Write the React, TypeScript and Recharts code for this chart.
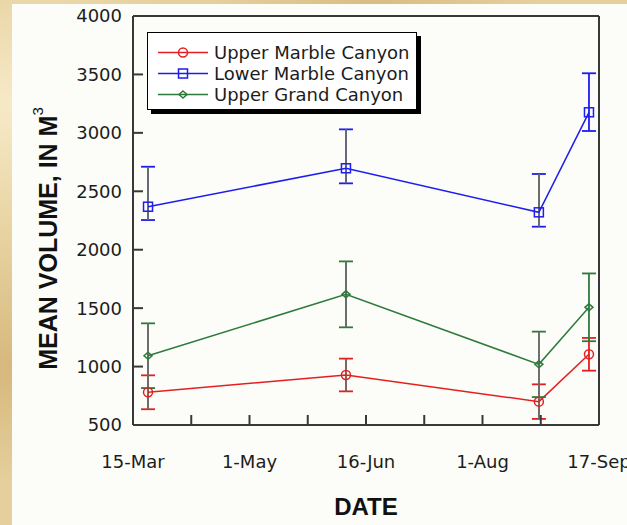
import React from 'react';
import { LineChart, Line, XAxis, YAxis, ErrorBar, Legend } from 'recharts';

// sampling dates as day of year (21-Mar, 8-Jun, 24-Aug, 13-Sep)
const sampleDays = [80, 159, 236, 256];

const upperMarble = [780, 928, 700, 1105];
const upperMarbleErr = [145, 140, 148, 140];

const lowerMarble = [2368, 2697, 2320, 3176];
const lowerMarbleErrLow = [114, 129, 123, 160];
const lowerMarbleErrHigh = [342, 333, 328, 334];

const upperGrand = [1093, 1618, 1019, 1507];
const upperGrandErr = [277, 282, 280, 290];

const xTickDays = [74, 97.25, 120.5, 143.75, 167, 190.25, 213.5, 236.75, 260];
const xTickLabels = ['15-Mar', '', '1-May', '', '16-Jun', '', '1-Aug', '', '17-Sep'];
const yTicks = [500, 1000, 1500, 2000, 2500, 3000, 3500, 4000];

const series = [
  { key: 'upperMarble', name: 'Upper Marble Canyon', color: '#e3201f', shape: 'circle' },
  { key: 'lowerMarble', name: 'Lower Marble Canyon', color: '#1d1def', shape: 'square' },
  { key: 'upperGrand', name: 'Upper Grand Canyon', color: '#2d7a3b', shape: 'diamond' },
];

const last = sampleDays.length - 1;

// "Err" draws the coloured caps (and the last stem), "Stem" lays the grey stem on top
const data = sampleDays.map((day, i) => {
  const lowerErr = [lowerMarbleErrLow[i], lowerMarbleErrHigh[i]];
  return {
    day,
    upperMarble: upperMarble[i],
    upperMarbleErr: upperMarbleErr[i],
    upperMarbleStem: i < last ? upperMarbleErr[i] : null,
    lowerMarble: lowerMarble[i],
    lowerMarbleErr: lowerErr,
    lowerMarbleStem: i < last ? lowerErr : null,
    upperGrand: upperGrand[i],
    upperGrandErr: upperGrandErr[i],
    upperGrandStem: i < last ? upperGrandErr[i] : null,
  };
});

const AXIS = '#383838';
const TICK_FONT = { fontFamily: 'DejaVu Sans', fontSize: 18, fill: '#1c1c1c' };
const TITLE_FONT = 'Liberation Sans, Arial, sans-serif';

function Marker({ cx, cy, shape, color }: { cx: number; cy: number; shape: string; color: string }) {
  if (cx == null || cy == null) return null;
  if (shape === 'circle') {
    return <circle cx={cx} cy={cy} r={4.5} fill="none" stroke={color} strokeWidth={1.5} />;
  }
  if (shape === 'square') {
    return <rect x={cx - 4.5} y={cy - 4.5} width={9} height={9} fill="none" stroke={color} strokeWidth={1.5} />;
  }
  const pts = `${cx},${cy - 3.5} ${cx + 4},${cy} ${cx},${cy + 3.5} ${cx - 4},${cy}`;
  return <polygon points={pts} fill="none" stroke={color} strokeWidth={1.5} />;
}

function LegendBox() {
  return (
    <div
      style={{
        width: 270,
        height: 78,
        background: '#fff',
        border: '1px solid #000',
        boxShadow: '4px 4px 0 #000',
        paddingTop: 9,
        boxSizing: 'border-box',
      }}
    >
      {series.map((s) => (
        <div key={s.key} style={{ display: 'flex', alignItems: 'center', height: 21 }}>
          <svg width={66} height={21} style={{ display: 'block' }}>
            <line x1={10} y1={10.5} x2={60} y2={10.5} stroke={s.color} strokeWidth={1.5} />
            <Marker cx={35} cy={10.5} shape={s.shape} color={s.color} />
          </svg>
          <span style={{ fontFamily: 'DejaVu Sans', fontSize: 18, color: '#1c1c1c', lineHeight: '21px' }}>
            {s.name}
          </span>
        </div>
      ))}
    </div>
  );
}

function VolumeTitle({ viewBox }: any) {
  const cx = viewBox.x + 35.5;
  const cy = viewBox.y + viewBox.height / 2 + 18;
  return (
    <text
      x={cx}
      y={cy}
      transform={`rotate(-90 ${cx} ${cy})`}
      textAnchor="middle"
      dominantBaseline="central"
      fontFamily={TITLE_FONT}
      fontSize={25}
      fontWeight="bold"
      fill="#111"
    >
      MEAN VOLUME, IN M
      <tspan dy={-11} fontSize={15} fontWeight="normal">
        3
      </tspan>
    </text>
  );
}

function DateTitle({ viewBox }: any) {
  const cx = viewBox.x + viewBox.width / 2;
  const y = viewBox.y + viewBox.height - 10;
  return (
    <text x={cx} y={y} textAnchor="middle" fontFamily={TITLE_FONT} fontSize={24} fontWeight="bold" fill="#111">
      DATE
    </text>
  );
}

export default function App() {
  return (
    <div
      style={{
        position: 'fixed',
        left: 0,
        top: 0,
        width: 627,
        height: 525,
        background:
          'radial-gradient(ellipse at 3% 20%, rgba(255,246,218,0.7), transparent 25%), ' +
          'radial-gradient(ellipse at 2% 70%, rgba(196,156,86,0.45), transparent 22%), ' +
          'radial-gradient(ellipse at 60% 0%, rgba(205,170,105,0.5), transparent 30%), #e5cf9c',
      }}
    >
      <div style={{ position: 'absolute', left: 12, top: 4, width: 615, height: 521, background: '#fcfcf8' }}>
        <LineChart width={615} height={521} data={data} margin={{ top: 11, right: 27, bottom: 0, left: 0 }}>
          <XAxis
            dataKey="day"
            type="number"
            domain={[74, 260]}
            ticks={xTickDays}
            interval={0}
            allowDataOverflow
            tickFormatter={(v: number) => xTickLabels[xTickDays.indexOf(v)] ?? ''}
            height={100}
            tickSize={-10}
            tickMargin={40}
            tick={TICK_FONT}
            axisLine={{ stroke: AXIS, strokeWidth: 2 }}
            tickLine={{ stroke: AXIS, strokeWidth: 2 }}
            label={<DateTitle />}
          />
          <XAxis
            xAxisId="top"
            orientation="top"
            type="number"
            domain={[74, 260]}
            ticks={xTickDays}
            interval={0}
            height={1}
            tickSize={-10}
            tick={false}
            axisLine={{ stroke: AXIS, strokeWidth: 2 }}
            tickLine={{ stroke: AXIS, strokeWidth: 2 }}
          />
          <YAxis
            type="number"
            domain={[500, 4000]}
            ticks={yTicks}
            interval={0}
            allowDataOverflow
            width={121}
            tickSize={-10}
            tickMargin={21}
            tick={TICK_FONT}
            axisLine={{ stroke: AXIS, strokeWidth: 2 }}
            tickLine={{ stroke: AXIS, strokeWidth: 2 }}
            label={<VolumeTitle />}
          />
          <YAxis
            yAxisId="right"
            orientation="right"
            type="number"
            domain={[500, 4000]}
            ticks={yTicks}
            interval={0}
            width={1}
            tickSize={-10}
            tick={false}
            axisLine={{ stroke: AXIS, strokeWidth: 2 }}
            tickLine={{ stroke: AXIS, strokeWidth: 2 }}
          />
          <Legend
            layout="horizontal"
            verticalAlign="middle"
            align="center"
            content={() => <LegendBox />}
            wrapperStyle={{ left: 135, top: 28, width: 'auto' }}
          />
          {series.map((s) => (
            <Line
              key={s.key}
              dataKey={s.key}
              name={s.name}
              type="linear"
              stroke={s.color}
              strokeWidth={1.5}
              isAnimationActive={false}
              dot={(p: any) => <Marker key={`${s.key}-${p.index}`} cx={p.cx} cy={p.cy} shape={s.shape} color={s.color} />}
              activeDot={false}
            >
              <ErrorBar dataKey={`${s.key}Err`} width={7} stroke={s.color} strokeWidth={1.8} direction="y" />
              <ErrorBar dataKey={`${s.key}Stem`} width={0} stroke="#6e6e6e" strokeWidth={1.8} direction="y" />
            </Line>
          ))}
        </LineChart>
      </div>
    </div>
  );
}
